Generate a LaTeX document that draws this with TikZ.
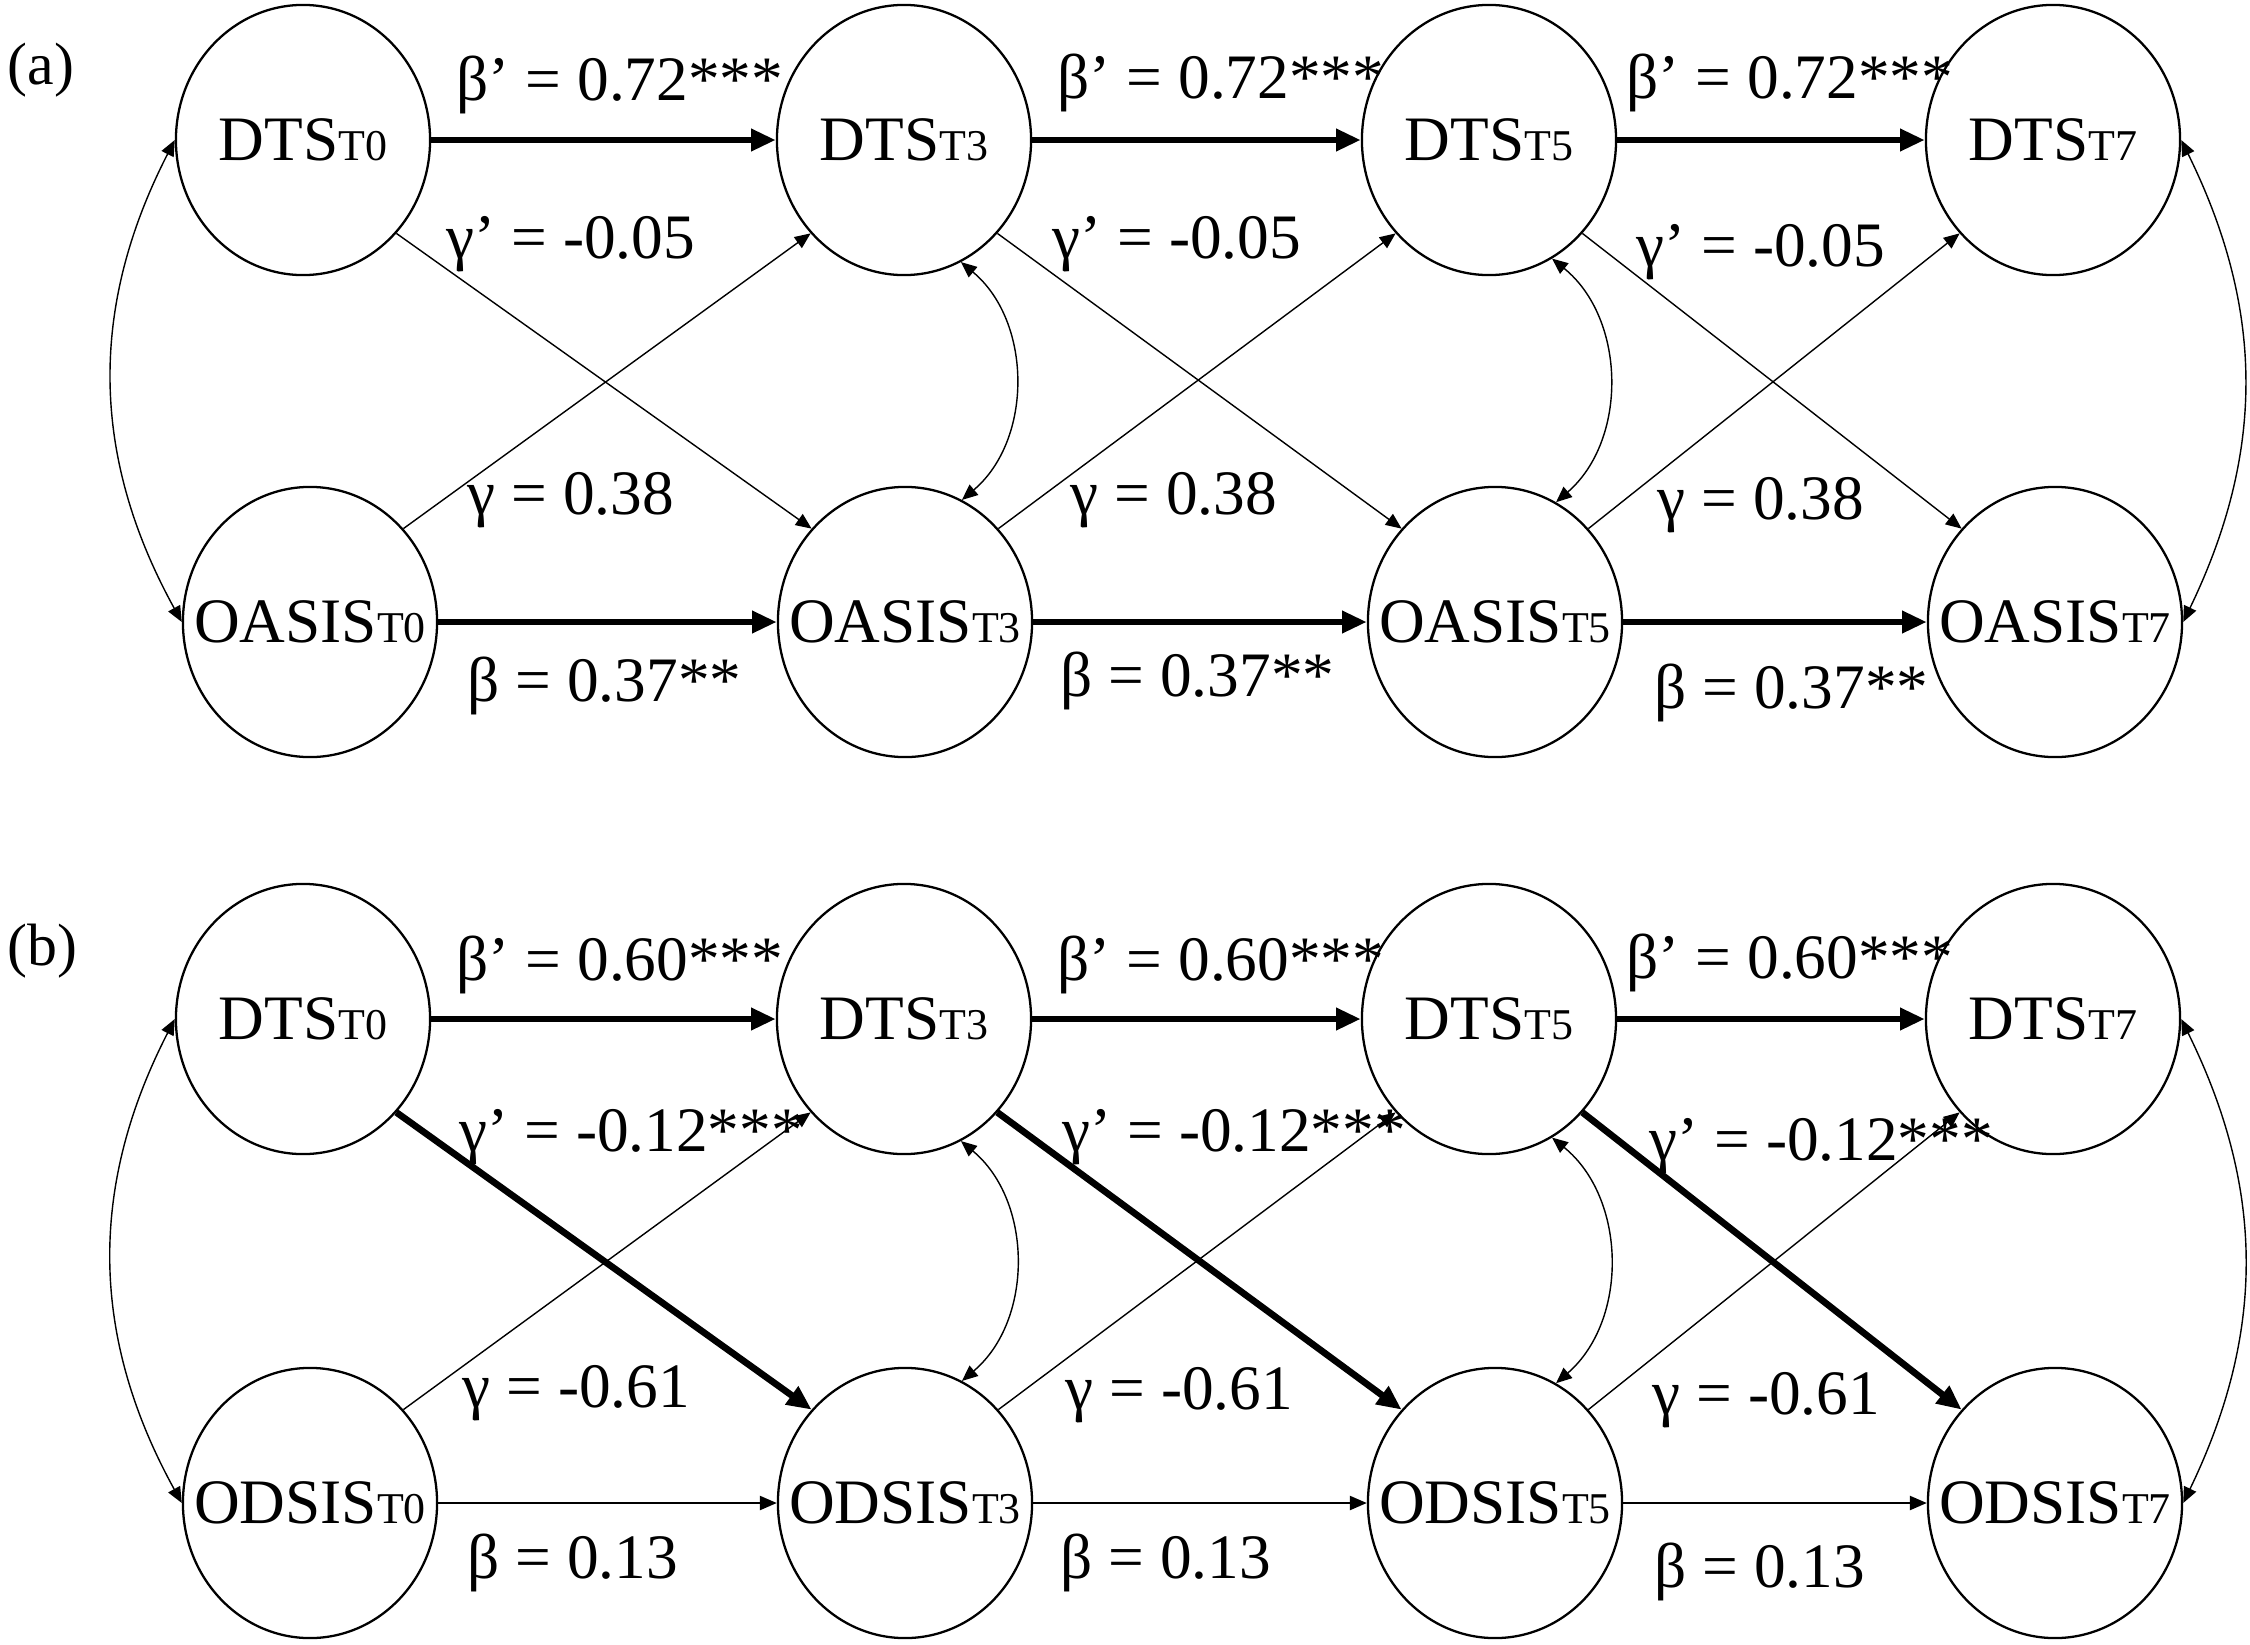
\documentclass[tikz,border=0pt]{standalone}
\usepackage{fontspec}
\setmainfont{Liberation Serif}
\usetikzlibrary{arrows.meta,shapes.geometric}
\newcommand\subtxt[1]{{\fontsize{12.5}{14}\selectfont #1}}
\begin{document}
\begin{tikzpicture}[x=0.01cm,y=-0.01cm,
  var/.style={draw, line width=0.65pt, ellipse, minimum width=2.54cm, minimum height=2.70cm, inner sep=0pt, font=\fontsize{18}{20}\selectfont},
  lab/.style={anchor=base west, inner sep=0pt, font=\fontsize{18}{20}\selectfont},
  panel/.style={anchor=base west, inner sep=0pt, font=\fontsize{17}{19}\selectfont},
  thk/.style={line width=1.9pt, -{Triangle[length=7pt,width=6pt]}},
  thn/.style={line width=0.4pt, -{Triangle[length=4.5pt,width=3.8pt]}},
  mid/.style={line width=0.55pt, -{Triangle[length=4.8pt,width=4pt]}},
  cov/.style={line width=0.4pt, {Triangle[length=4.5pt,width=3.8pt]}-{Triangle[length=4.5pt,width=3.8pt]}}
]
\useasboundingbox (0,0) rectangle (2250,1645);

% ---------- panel (a) ----------
\node[panel] (pa) at (7,84) {(a)};
\node[var] (aD0) at (303,140) {\makebox[0pt]{DTS\subtxt{T0}}};
\node[var] (aD3) at (904,140) {\makebox[0pt]{DTS\subtxt{T3}}};
\node[var] (aD5) at (1489,140) {\makebox[0pt]{DTS\subtxt{T5}}};
\node[var] (aD7) at (2053,140) {\makebox[0pt]{DTS\subtxt{T7}}};
\node[var] (aO0) at (310,622) {\makebox[0pt]{OASIS\subtxt{T0}}};
\node[var] (aO3) at (905,622) {\makebox[0pt]{OASIS\subtxt{T3}}};
\node[var] (aO5) at (1495,622) {\makebox[0pt]{OASIS\subtxt{T5}}};
\node[var] (aO7) at (2055,622) {\makebox[0pt]{OASIS\subtxt{T7}}};

\draw[thk] (aD0.east) -- (aD3.west);
\draw[thk] (aD3.east) -- (aD5.west);
\draw[thk] (aD5.east) -- (aD7.west);
\draw[thk] (aO0.east) -- (aO3.west);
\draw[thk] (aO3.east) -- (aO5.west);
\draw[thk] (aO5.east) -- (aO7.west);

\draw[thn] (aD0.-45) -- (aO3.135);
\draw[thn] (aD3.-45) -- (aO5.135);
\draw[thn] (aD5.-45) -- (aO7.135);
\draw[thn] (aO0.45) -- (aD3.225);
\draw[thn] (aO3.45) -- (aD5.225);
\draw[thn] (aO5.45) -- (aD7.225);

\draw[cov] (aD0.west) to[bend right=28] (aO0.west);
\draw[cov] (aD7.east) to[bend left=26] (aO7.east);
\draw[cov] (aD3.-65) to[bend left=50] (aO3.65);
\draw[cov] (aD5.-62) to[bend left=50] (aO5.63);

\node[lab] (a1) at (456,100) {β’ = 0.72***};
\node[lab] (a2) at (1057,98) {β’ = 0.72***};
\node[lab] (a3) at (1626,98) {β’ = 0.72***};
\node[lab] (a4) at (446,258) {γ’ = -0.05};
\node[lab] (a5) at (1052,258) {γ’ = -0.05};
\node[lab] (a6) at (1636,266) {γ’ = -0.05};
\node[lab] (a7) at (467,514) {γ = 0.38};
\node[lab] (a8) at (1070,514) {γ = 0.38};
\node[lab] (a9) at (1657,519) {γ = 0.38};
\node[lab] (a10) at (467,701) {β = 0.37**};
\node[lab] (a11) at (1060,696) {β = 0.37**};
\node[lab] (a12) at (1654,708) {β = 0.37**};

% ---------- panel (b) ----------
\node[panel] (pb) at (7,965) {(b)};
\node[var] (bD0) at (303,1019) {\makebox[0pt]{DTS\subtxt{T0}}};
\node[var] (bD3) at (904,1019) {\makebox[0pt]{DTS\subtxt{T3}}};
\node[var] (bD5) at (1489,1019) {\makebox[0pt]{DTS\subtxt{T5}}};
\node[var] (bD7) at (2053,1019) {\makebox[0pt]{DTS\subtxt{T7}}};
\node[var] (bO0) at (310,1503) {\makebox[0pt]{ODSIS\subtxt{T0}}};
\node[var] (bO3) at (905,1503) {\makebox[0pt]{ODSIS\subtxt{T3}}};
\node[var] (bO5) at (1495,1503) {\makebox[0pt]{ODSIS\subtxt{T5}}};
\node[var] (bO7) at (2055,1503) {\makebox[0pt]{ODSIS\subtxt{T7}}};

\draw[thk] (bD0.east) -- (bD3.west);
\draw[thk] (bD3.east) -- (bD5.west);
\draw[thk] (bD5.east) -- (bD7.west);
\draw[mid] (bO0.east) -- (bO3.west);
\draw[mid] (bO3.east) -- (bO5.west);
\draw[mid] (bO5.east) -- (bO7.west);

\draw[thk] (bD0.-45) -- (bO3.135);
\draw[thk] (bD3.-45) -- (bO5.135);
\draw[thk] (bD5.-45) -- (bO7.135);
\draw[thn] (bO0.45) -- (bD3.225);
\draw[thn] (bO3.45) -- (bD5.225);
\draw[thn] (bO5.45) -- (bD7.225);

\draw[cov] (bD0.west) to[bend right=28] (bO0.west);
\draw[cov] (bD7.east) to[bend left=26] (bO7.east);
\draw[cov] (bD3.-65) to[bend left=50] (bO3.65);
\draw[cov] (bD5.-62) to[bend left=50] (bO5.63);

\node[lab] (b1) at (456,980) {β’ = 0.60***};
\node[lab] (b2) at (1057,980) {β’ = 0.60***};
\node[lab] (b3) at (1626,978) {β’ = 0.60***};
\node[lab] (b4) at (459,1151) {γ’ = -0.12***};
\node[lab] (b5) at (1062,1151) {γ’ = -0.12***};
\node[lab] (b6) at (1649,1160) {γ’ = -0.12***};
\node[lab] (b7) at (462,1407) {γ = -0.61};
\node[lab] (b8) at (1065,1409) {γ = -0.61};
\node[lab] (b9) at (1652,1414) {γ = -0.61};
\node[lab] (b10) at (467,1578) {β = 0.13};
\node[lab] (b11) at (1060,1578) {β = 0.13};
\node[lab] (b12) at (1654,1587) {β = 0.13};
\end{tikzpicture}
\end{document}
